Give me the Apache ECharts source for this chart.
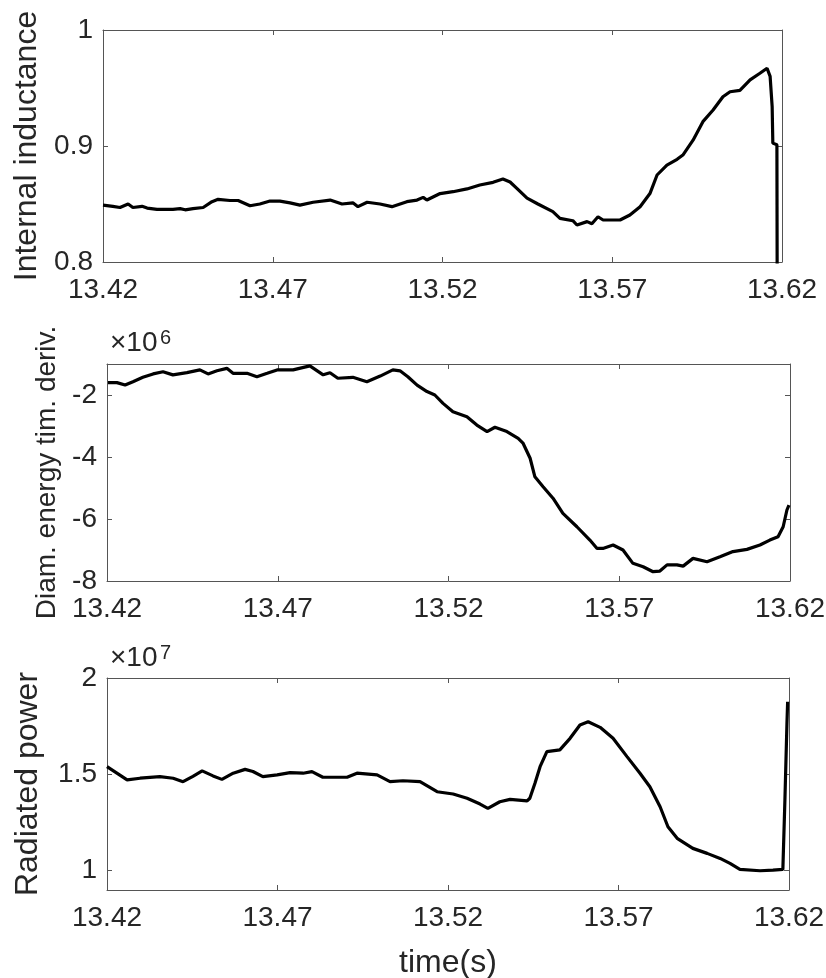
<!DOCTYPE html>
<html>
<head>
<meta charset="utf-8">
<script src="https://cdn.jsdelivr.net/npm/echarts@6/dist/echarts.min.js"></script>
<style>
  html, body { margin: 0; padding: 0; background: #fff; }
  #chart { width: 826px; height: 978px; }
</style>
</head>
<body>
<div id="chart"></div>
<script>
// time axis ticks (s)
const xTicks = [13.42, 13.47, 13.52, 13.57, 13.62];

// panel 1: internal inductance
const time1 = [13.4200, 13.4229, 13.4250, 13.4274, 13.4288, 13.4315, 13.4330, 13.4359, 13.4406, 13.4427,
  13.4442, 13.4465, 13.4495, 13.4521, 13.4539, 13.4574, 13.4598, 13.4633, 13.4662, 13.4692,
  13.4721, 13.4751, 13.4780, 13.4819, 13.4869, 13.4904, 13.4936, 13.4951, 13.4978, 13.5016,
  13.5051, 13.5095, 13.5125, 13.5143, 13.5154, 13.5193, 13.5231, 13.5272, 13.5310, 13.5349,
  13.5378, 13.5399, 13.5419, 13.5449, 13.5481, 13.5525, 13.5546, 13.5584, 13.5596, 13.5626,
  13.5640, 13.5658, 13.5673, 13.5723, 13.5752, 13.5782, 13.5811, 13.5832, 13.5861, 13.5891,
  13.5908, 13.5938, 13.5967, 13.5997, 13.6026, 13.6047, 13.6076, 13.6106, 13.6135, 13.6156,
  13.6165, 13.6171, 13.6173, 13.6185, 13.6187];
const inductance = [0.849, 0.848, 0.847, 0.850, 0.847, 0.848, 0.8465, 0.8454, 0.8454, 0.846,
  0.845, 0.846, 0.847, 0.852, 0.854, 0.853, 0.853, 0.8485, 0.850, 0.8526,
  0.8525, 0.851, 0.849, 0.8515, 0.8534, 0.850, 0.851, 0.8477, 0.8515, 0.850,
  0.8477, 0.852, 0.8534, 0.8557, 0.8534, 0.859, 0.8606, 0.863, 0.8664, 0.8687,
  0.8716, 0.869, 0.8635, 0.855, 0.850, 0.8434, 0.8376, 0.8356, 0.8319, 0.8348,
  0.833, 0.839, 0.8362, 0.8362, 0.8405, 0.8477, 0.859, 0.875, 0.8836, 0.8885,
  0.8922, 0.905, 0.921, 0.931, 0.9425, 0.9468, 0.948, 0.957, 0.9627, 0.967,
  0.960, 0.934, 0.9025, 0.901, 0.6];
const yTicks1 = [0.8, 0.9, 1];

// panel 2: diamagnetic energy time derivative (x10^6)
const time2 = [13.4203, 13.4229, 13.4253, 13.4276, 13.4305, 13.4335, 13.4364, 13.4393, 13.4434, 13.4472,
  13.4496, 13.4522, 13.4551, 13.4569, 13.4610, 13.4639, 13.4669, 13.4698, 13.4745, 13.4794,
  13.4833, 13.4853, 13.4876, 13.4920, 13.4961, 13.5000, 13.5037, 13.5058, 13.5081, 13.5108,
  13.5137, 13.5160, 13.5184, 13.5213, 13.5254, 13.5283, 13.5313, 13.5336, 13.5371, 13.5404,
  13.5418, 13.5439, 13.5453, 13.5477, 13.5506, 13.5535, 13.5576, 13.5614, 13.5635, 13.5652,
  13.5682, 13.5711, 13.5740, 13.5770, 13.5799, 13.5819, 13.5840, 13.5869, 13.5887, 13.5916,
  13.5957, 13.5995, 13.6033, 13.6074, 13.6112, 13.6141, 13.6165, 13.6180, 13.6191, 13.6197];
const energyDeriv = [-1.60, -1.60, -1.68, -1.57, -1.43, -1.32, -1.25, -1.35, -1.28, -1.19,
  -1.32, -1.22, -1.14, -1.30, -1.30, -1.41, -1.30, -1.19, -1.19, -1.06,
  -1.35, -1.28, -1.46, -1.43, -1.57, -1.39, -1.19, -1.22, -1.41, -1.68,
  -1.89, -2.00, -2.27, -2.54, -2.70, -2.97, -3.18, -3.04, -3.18, -3.40,
  -3.55, -4.04, -4.64, -4.96, -5.33, -5.82, -6.25, -6.68, -6.95, -6.95,
  -6.84, -7.00, -7.43, -7.54, -7.70, -7.68, -7.48, -7.48, -7.52, -7.27,
  -7.38, -7.22, -7.05, -6.98, -6.84, -6.68, -6.57, -6.25, -5.71, -5.55];
const yTicks2 = [-8, -6, -4, -2];

// panel 3: radiated power (x10^7)
const time3 = [13.4200, 13.4229, 13.4259, 13.4297, 13.4355, 13.4394, 13.4423, 13.4452, 13.4479, 13.4511,
  13.4537, 13.4570, 13.4605, 13.4628, 13.4657, 13.4699, 13.4737, 13.4775, 13.4801, 13.4833,
  13.4904, 13.4933, 13.4992, 13.5030, 13.5068, 13.5118, 13.5168, 13.5215, 13.5256, 13.5294,
  13.5317, 13.5352, 13.5382, 13.5432, 13.5440, 13.5455, 13.5470, 13.5490, 13.5528, 13.5558,
  13.5587, 13.5611, 13.5646, 13.5684, 13.5725, 13.5763, 13.5792, 13.5822, 13.5845, 13.5872,
  13.5918, 13.5960, 13.5998, 13.6027, 13.6056, 13.6115, 13.6153, 13.6182, 13.6188, 13.6194, 13.6196];
const radPower = [1.540, 1.506, 1.471, 1.480, 1.488, 1.480, 1.462, 1.490, 1.518, 1.492,
  1.474, 1.506, 1.526, 1.515, 1.488, 1.497, 1.509, 1.506, 1.514, 1.485,
  1.485, 1.506, 1.497, 1.462, 1.467, 1.462, 1.410, 1.398, 1.376, 1.346,
  1.324, 1.358, 1.370, 1.362, 1.376, 1.454, 1.540, 1.618, 1.627, 1.687,
  1.756, 1.773, 1.744, 1.687, 1.592, 1.506, 1.436, 1.332, 1.228, 1.168,
  1.116, 1.090, 1.064, 1.038, 1.007, 1.000, 1.003, 1.007, 1.367, 1.765, 1.877];
const yTicks3 = [1, 1.5, 2];

const FONT = 'Liberation Sans';
const TXT = '#262626';
const BOX = '#555';

const chart = echarts.init(document.getElementById('chart'));

function pairs(xs, ys) {
  return xs.map((x, i) => [x, ys[i]]);
}

function xAxisPair(grid, showName) {
  const base = {
    gridIndex: grid,
    type: 'value',
    min: 13.42,
    max: 13.62,
    splitLine: { show: false },
    axisLine: { show: true, onZero: false, lineStyle: { color: BOX, width: 1 } },
    axisTick: { show: true, inside: true, length: 5, customValues: xTicks, lineStyle: { color: BOX } }
  };
  return [
    Object.assign({}, base, {
      position: 'bottom',
      name: showName ? 'time(s)' : '',
      nameLocation: 'middle',
      nameGap: 57,
      nameTextStyle: { fontFamily: FONT, fontSize: 32, color: TXT },
      axisLabel: {
        show: true, margin: 14, customValues: xTicks,
        fontFamily: FONT, fontSize: 28, color: TXT,
        formatter: v => v.toFixed(2)
      }
    }),
    Object.assign({}, base, { position: 'top', axisLabel: { show: false } })
  ];
}

function yAxisPair(grid, min, max, ticks, name, nameSize, nameGap) {
  const base = {
    gridIndex: grid,
    type: 'value',
    min: min,
    max: max,
    splitLine: { show: false },
    axisLine: { show: true, onZero: false, lineStyle: { color: BOX, width: 1 } },
    axisTick: { show: true, inside: true, length: 5, customValues: ticks, lineStyle: { color: BOX } }
  };
  return [
    Object.assign({}, base, {
      position: 'left',
      name: name,
      nameLocation: 'middle',
      nameRotate: 90,
      nameGap: nameGap,
      nameTextStyle: { fontFamily: FONT, fontSize: nameSize, color: TXT },
      axisLabel: { show: true, margin: 10, customValues: ticks, fontFamily: FONT, fontSize: 28, color: TXT }
    }),
    Object.assign({}, base, { position: 'right', axisLabel: { show: false } })
  ];
}

function lineSeries(idx, data) {
  return {
    type: 'line',
    xAxisIndex: idx * 2,
    yAxisIndex: idx * 2,
    data: data,
    symbol: 'none',
    clip: true,
    lineStyle: { color: '#000', width: 3.2 }
  };
}

// "×10^n" multiplier above a panel
function expLabel(x, y, exp) {
  return [
    { text: '×10', left: x, top: y, padding: 0,
      textStyle: { fontSize: 28, fontWeight: 'normal', fontFamily: FONT, color: TXT } },
    { text: exp, left: x + 50, top: y - 1, padding: 0,
      textStyle: { fontSize: 20, fontWeight: 'normal', fontFamily: FONT, color: TXT } }
  ];
}

const option = {
  animation: false,
  backgroundColor: '#fff',
  title: [].concat(expLabel(110, 329, '6'), expLabel(110, 644, '7')),
  grid: [
    { left: 103, right: 44, top: 30, height: 232, containLabel: false, outerBoundsMode: 'none' },
    { left: 107, right: 36, top: 364, height: 217, containLabel: false, outerBoundsMode: 'none' },
    { left: 107, right: 37, top: 678, height: 212, containLabel: false, outerBoundsMode: 'none' }
  ],
  xAxis: [].concat(xAxisPair(0, false), xAxisPair(1, false), xAxisPair(2, true)),
  yAxis: [].concat(
    yAxisPair(0, 0.8, 1, yTicks1, 'Internal inductance', 32, 60),
    yAxisPair(1, -8, -1, yTicks2, 'Diam. energy tim. deriv.', 28, 44),
    yAxisPair(2, 0.9, 2, yTicks3, 'Radiated power', 32, 63)
  ),
  series: [
    lineSeries(0, pairs(time1, inductance)),
    lineSeries(1, pairs(time2, energyDeriv)),
    lineSeries(2, pairs(time3, radPower))
  ]
};

chart.setOption(option);
</script>
</body>
</html>
